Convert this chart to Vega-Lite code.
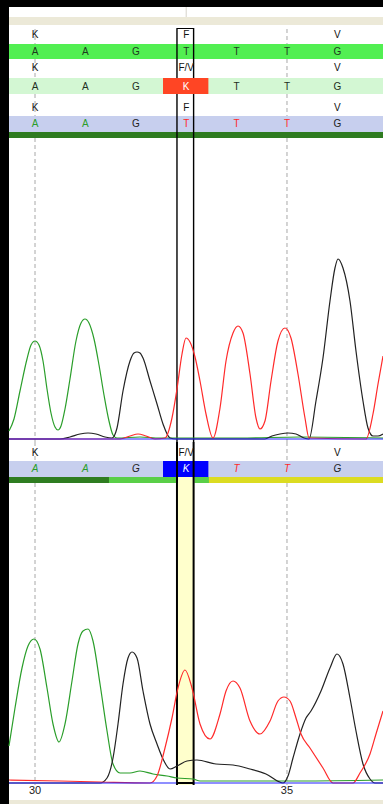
{
  "$schema": "https://vega.github.io/schema/vega-lite/v6.json",
  "background": "black",
  "padding": {"left": 6, "top": 6, "right": 0, "bottom": 0},
  "bounds": "flush",
  "spacing": 0,
  "config": {"view": {"stroke": null}, "text": {"font": "Liberation Sans", "fontSize": 10}},
  "datasets": {
    "grid": [{"p": 30}, {"p": 35}],
    "box": [{"p": 32.817}, {"p": 33.147}],
    "boxspan": [{"p": 32.804, "p2": 33.161}],
    "aa1": [{"p": 30, "t": "K"}, {"p": 33, "t": "F"}, {"p": 36, "t": "V"}],
    "aa2": [{"p": 30, "t": "K"}, {"p": 33, "t": "F/V"}, {"p": 36, "t": "V"}],
    "seq": [{"p": 30, "b": "A"}, {"p": 31, "b": "A"}, {"p": 32, "b": "G"}, {"p": 33, "b": "T"}, {"p": 34, "b": "T"}, {"p": 35, "b": "T"}, {"p": 36, "b": "G"}],
    "seqK": [{"p": 30, "b": "A"}, {"p": 31, "b": "A"}, {"p": 32, "b": "G"}, {"p": 33, "b": "K"}, {"p": 34, "b": "T"}, {"p": 35, "b": "T"}, {"p": 36, "b": "G"}],
    "cell": [{"p": 32.54, "p2": 33.44}],
    "seg": [{"p": 29.484, "p2": 31.468, "k": "a"}, {"p": 31.468, "p2": 33.452, "k": "b"}, {"p": 33.452, "p2": 36.905, "k": "c"}],
    "ticks": [{"p": 30, "t": "30"}, {"p": 35, "t": "35"}],
    "c1": [
      {"b":"A","p":29.484,"v":8},{"b":"A","p":29.583,"v":20},{"b":"A","p":29.702,"v":48},{"b":"A","p":29.841,"v":80},{"b":"A","p":29.921,"v":94},{"b":"A","p":30.0,"v":98},{"b":"A","p":30.079,"v":94},{"b":"A","p":30.159,"v":78},{"b":"A","p":30.238,"v":50},{"b":"A","p":30.317,"v":26},{"b":"A","p":30.397,"v":12},{"b":"A","p":30.456,"v":9},{"b":"A","p":30.516,"v":13},{"b":"A","p":30.595,"v":30},{"b":"A","p":30.694,"v":60},{"b":"A","p":30.813,"v":98},{"b":"A","p":30.913,"v":116},{"b":"A","p":30.992,"v":120},{"b":"A","p":31.071,"v":116},{"b":"A","p":31.171,"v":100},{"b":"A","p":31.27,"v":74},{"b":"A","p":31.369,"v":44},{"b":"A","p":31.468,"v":18},{"b":"A","p":31.548,"v":4},{"b":"A","p":31.627,"v":1},{"b":"A","p":32.083,"v":2},{"b":"A","p":32.48,"v":1},{"b":"A","p":34.067,"v":1},{"b":"A","p":35.258,"v":2},{"b":"A","p":36.905,"v":1},
      {"b":"G","p":29.484,"v":0},{"b":"G","p":30.496,"v":0},{"b":"G","p":30.694,"v":2},{"b":"G","p":30.893,"v":5},{"b":"G","p":31.052,"v":6},{"b":"G","p":31.21,"v":5},{"b":"G","p":31.389,"v":2},{"b":"G","p":31.528,"v":1},{"b":"G","p":31.627,"v":11},{"b":"G","p":31.746,"v":48},{"b":"G","p":31.885,"v":78},{"b":"G","p":31.964,"v":86},{"b":"G","p":32.024,"v":87},{"b":"G","p":32.083,"v":86},{"b":"G","p":32.143,"v":81},{"b":"G","p":32.282,"v":58},{"b":"G","p":32.421,"v":35},{"b":"G","p":32.54,"v":15},{"b":"G","p":32.679,"v":1},{"b":"G","p":32.798,"v":0},{"b":"G","p":34.563,"v":0},{"b":"G","p":34.702,"v":3},{"b":"G","p":34.861,"v":5},{"b":"G","p":35.02,"v":6},{"b":"G","p":35.179,"v":5},{"b":"G","p":35.337,"v":1},{"b":"G","p":35.437,"v":0},{"b":"G","p":35.575,"v":38},{"b":"G","p":35.714,"v":81},{"b":"G","p":35.853,"v":138},{"b":"G","p":35.952,"v":171},{"b":"G","p":36.012,"v":180},{"b":"G","p":36.111,"v":171},{"b":"G","p":36.25,"v":138},{"b":"G","p":36.369,"v":88},{"b":"G","p":36.508,"v":38},{"b":"G","p":36.607,"v":11},{"b":"G","p":36.706,"v":3},{"b":"G","p":36.806,"v":3},{"b":"G","p":36.905,"v":5},
      {"b":"T","p":29.484,"v":0},{"b":"T","p":31.687,"v":0},{"b":"T","p":31.885,"v":3},{"b":"T","p":32.044,"v":5},{"b":"T","p":32.202,"v":3},{"b":"T","p":32.381,"v":0},{"b":"T","p":32.579,"v":1},{"b":"T","p":32.718,"v":21},{"b":"T","p":32.817,"v":50},{"b":"T","p":32.917,"v":85},{"b":"T","p":32.996,"v":101},{"b":"T","p":33.075,"v":97},{"b":"T","p":33.175,"v":82},{"b":"T","p":33.274,"v":58},{"b":"T","p":33.393,"v":25},{"b":"T","p":33.532,"v":1},{"b":"T","p":33.671,"v":31},{"b":"T","p":33.79,"v":78},{"b":"T","p":33.929,"v":106},{"b":"T","p":34.028,"v":113},{"b":"T","p":34.127,"v":106},{"b":"T","p":34.266,"v":65},{"b":"T","p":34.385,"v":21},{"b":"T","p":34.464,"v":10},{"b":"T","p":34.563,"v":18},{"b":"T","p":34.683,"v":58},{"b":"T","p":34.821,"v":98},{"b":"T","p":34.96,"v":111},{"b":"T","p":35.079,"v":101},{"b":"T","p":35.218,"v":65},{"b":"T","p":35.357,"v":21},{"b":"T","p":35.437,"v":1},{"b":"T","p":36.567,"v":0},{"b":"T","p":36.706,"v":25},{"b":"T","p":36.806,"v":55},{"b":"T","p":36.905,"v":83},
      {"b":"C","p":29.484,"v":0},{"b":"C","p":36.905,"v":0}
    ],
    "c2": [
      {"b":"A","p":29.484,"v":37},{"b":"A","p":29.603,"v":75},{"b":"A","p":29.742,"v":115},{"b":"A","p":29.861,"v":137},{"b":"A","p":29.98,"v":144},{"b":"A","p":30.099,"v":134},{"b":"A","p":30.238,"v":95},{"b":"A","p":30.357,"v":59},{"b":"A","p":30.476,"v":41},{"b":"A","p":30.595,"v":59},{"b":"A","p":30.734,"v":102},{"b":"A","p":30.853,"v":139},{"b":"A","p":30.952,"v":152},{"b":"A","p":31.052,"v":154},{"b":"A","p":31.151,"v":142},{"b":"A","p":31.29,"v":99},{"b":"A","p":31.429,"v":52},{"b":"A","p":31.548,"v":19},{"b":"A","p":31.687,"v":10},{"b":"A","p":31.885,"v":10},{"b":"A","p":32.083,"v":12},{"b":"A","p":32.341,"v":9},{"b":"A","p":32.619,"v":7},{"b":"A","p":32.817,"v":5},{"b":"A","p":33.135,"v":4},{"b":"A","p":33.274,"v":2},{"b":"A","p":33.929,"v":2},{"b":"A","p":35.258,"v":2},{"b":"A","p":36.905,"v":3},
      {"b":"G","p":29.484,"v":0},{"b":"G","p":31.29,"v":0},{"b":"G","p":31.429,"v":5},{"b":"G","p":31.548,"v":25},{"b":"G","p":31.647,"v":59},{"b":"G","p":31.746,"v":99},{"b":"G","p":31.845,"v":125},{"b":"G","p":31.925,"v":131},{"b":"G","p":32.024,"v":125},{"b":"G","p":32.143,"v":92},{"b":"G","p":32.282,"v":59},{"b":"G","p":32.421,"v":39},{"b":"G","p":32.54,"v":24},{"b":"G","p":32.679,"v":14},{"b":"G","p":32.817,"v":17},{"b":"G","p":33.016,"v":22},{"b":"G","p":33.214,"v":23},{"b":"G","p":33.591,"v":19},{"b":"G","p":33.929,"v":18},{"b":"G","p":34.266,"v":14},{"b":"G","p":34.583,"v":9},{"b":"G","p":34.921,"v":0},{"b":"G","p":35.02,"v":7},{"b":"G","p":35.119,"v":25},{"b":"G","p":35.258,"v":49},{"b":"G","p":35.377,"v":65},{"b":"G","p":35.476,"v":72},{"b":"G","p":35.675,"v":92},{"b":"G","p":35.853,"v":115},{"b":"G","p":35.992,"v":129},{"b":"G","p":36.111,"v":119},{"b":"G","p":36.25,"v":85},{"b":"G","p":36.369,"v":52},{"b":"G","p":36.508,"v":19},{"b":"G","p":36.647,"v":4},{"b":"G","p":36.746,"v":0},{"b":"G","p":36.905,"v":0},
      {"b":"T","p":29.484,"v":3},{"b":"T","p":30.496,"v":2},{"b":"T","p":31.29,"v":1},{"b":"T","p":32.282,"v":0},{"b":"T","p":32.421,"v":7},{"b":"T","p":32.579,"v":35},{"b":"T","p":32.718,"v":65},{"b":"T","p":32.837,"v":95},{"b":"T","p":32.976,"v":113},{"b":"T","p":33.115,"v":95},{"b":"T","p":33.274,"v":59},{"b":"T","p":33.472,"v":44},{"b":"T","p":33.671,"v":69},{"b":"T","p":33.79,"v":92},{"b":"T","p":33.929,"v":102},{"b":"T","p":34.067,"v":95},{"b":"T","p":34.266,"v":62},{"b":"T","p":34.464,"v":49},{"b":"T","p":34.663,"v":62},{"b":"T","p":34.821,"v":82},{"b":"T","p":34.94,"v":86},{"b":"T","p":35.06,"v":82},{"b":"T","p":35.179,"v":65},{"b":"T","p":35.278,"v":49},{"b":"T","p":35.456,"v":35},{"b":"T","p":35.714,"v":15},{"b":"T","p":35.913,"v":0},{"b":"T","p":36.31,"v":0},{"b":"T","p":36.448,"v":10},{"b":"T","p":36.647,"v":29},{"b":"T","p":36.766,"v":49},{"b":"T","p":36.905,"v":72},
      {"b":"C","p":29.484,"v":0},{"b":"C","p":36.905,"v":0}
    ]
  },
  "vconcat": [
    {"width": 374, "height": 10, "view": {"fill": "#ffffff"},
     "data": {"values": [{"p": 33.0}]},
     "mark": {"type": "rule", "color": "#d6d3ca"},
     "encoding": {"x": {"field": "p", "type": "quantitative", "scale": {"domain": [29.484, 36.905], "nice": false, "zero": false}, "axis": null}}},
    {"width": 374, "height": 8, "view": {"fill": "#ece9d8"},
     "data": {"name": "grid"},
     "mark": {"type": "rule", "opacity": 0},
     "encoding": {"x": {"field": "p", "type": "quantitative", "scale": {"domain": [29.484, 36.905], "nice": false, "zero": false}, "axis": null}}},
    {"width": 374, "height": 3, "view": {"fill": "#ffffff"},
     "data": {"name": "grid"},
     "mark": {"type": "rule", "opacity": 0},
     "encoding": {"x": {"field": "p", "type": "quantitative", "scale": {"domain": [29.484, 36.905], "nice": false, "zero": false}, "axis": null}}},
    {"width": 374, "height": 1, "view": {"fill": "#ffffff"},
     "data": {"name": "boxspan"},
     "mark": {"type": "rect", "color": "#000000"},
     "encoding": {"x": {"field": "p", "type": "quantitative", "scale": {"domain": [29.484, 36.905], "nice": false, "zero": false}, "axis": null}, "x2": {"field": "p2"}}},
    {"width": 374, "height": 15, "view": {"fill": "#ffffff"},
     "layer": [
       {"data": {"name": "grid"}, "mark": {"type": "rule", "color": "#a8a8a8", "strokeDash": [4, 3]}, "encoding": {"x": {"field": "p", "type": "quantitative", "scale": {"domain": [29.484, 36.905], "nice": false, "zero": false}, "axis": null}}},
       {"data": {"name": "box"}, "mark": {"type": "rule", "color": "#000000", "strokeWidth": 1.4}, "encoding": {"x": {"field": "p", "type": "quantitative", "scale": {"domain": [29.484, 36.905], "nice": false, "zero": false}, "axis": null}}},
       {"data": {"name": "aa1"}, "mark": {"type": "text", "color": "#111111", "dy": -2}, "encoding": {"x": {"field": "p", "type": "quantitative", "scale": {"domain": [29.484, 36.905], "nice": false, "zero": false}, "axis": null}, "text": {"field": "t"}}}
     ]},
    {"width": 374, "height": 15, "view": {"fill": "#52ef52"},
     "layer": [
       {"data": {"name": "box"}, "mark": {"type": "rule", "color": "#000000", "strokeWidth": 1.4}, "encoding": {"x": {"field": "p", "type": "quantitative", "scale": {"domain": [29.484, 36.905], "nice": false, "zero": false}, "axis": null}}},
       {"data": {"name": "seq"}, "mark": {"type": "text", "color": "#1f3a1f", "dy": 0.5}, "encoding": {"x": {"field": "p", "type": "quantitative", "scale": {"domain": [29.484, 36.905], "nice": false, "zero": false}, "axis": null}, "text": {"field": "b"}}}
     ]},
    {"width": 374, "height": 19, "view": {"fill": "#ffffff"},
     "layer": [
       {"data": {"name": "grid"}, "mark": {"type": "rule", "color": "#a8a8a8", "strokeDash": [4, 3]}, "encoding": {"x": {"field": "p", "type": "quantitative", "scale": {"domain": [29.484, 36.905], "nice": false, "zero": false}, "axis": null}}},
       {"data": {"name": "box"}, "mark": {"type": "rule", "color": "#000000", "strokeWidth": 1.4}, "encoding": {"x": {"field": "p", "type": "quantitative", "scale": {"domain": [29.484, 36.905], "nice": false, "zero": false}, "axis": null}}},
       {"data": {"name": "aa2"}, "mark": {"type": "text", "color": "#111111", "dy": -0.5}, "encoding": {"x": {"field": "p", "type": "quantitative", "scale": {"domain": [29.484, 36.905], "nice": false, "zero": false}, "axis": null}, "text": {"field": "t"}}}
     ]},
    {"width": 374, "height": 16, "view": {"fill": "#d3f7d3"},
     "layer": [
       {"data": {"name": "box"}, "mark": {"type": "rule", "color": "#000000", "strokeWidth": 1.4}, "encoding": {"x": {"field": "p", "type": "quantitative", "scale": {"domain": [29.484, 36.905], "nice": false, "zero": false}, "axis": null}}},
       {"data": {"name": "cell"}, "mark": {"type": "rect", "color": "#ff4524"}, "encoding": {"x": {"field": "p", "type": "quantitative", "scale": {"domain": [29.484, 36.905], "nice": false, "zero": false}, "axis": null}, "x2": {"field": "p2"}}},
       {"data": {"name": "seqK"}, "transform": [{"filter": "datum.b != 'K'"}], "mark": {"type": "text", "color": "#1f2f1f", "dy": 0.5}, "encoding": {"x": {"field": "p", "type": "quantitative", "scale": {"domain": [29.484, 36.905], "nice": false, "zero": false}, "axis": null}, "text": {"field": "b"}}},
       {"data": {"name": "seqK"}, "transform": [{"filter": "datum.b == 'K'"}], "mark": {"type": "text", "color": "#ffffff", "dy": 0.5}, "encoding": {"x": {"field": "p", "type": "quantitative", "scale": {"domain": [29.484, 36.905], "nice": false, "zero": false}, "axis": null}, "text": {"field": "b"}}}
     ]},
    {"width": 374, "height": 22, "view": {"fill": "#ffffff"},
     "layer": [
       {"data": {"name": "grid"}, "mark": {"type": "rule", "color": "#a8a8a8", "strokeDash": [4, 3]}, "encoding": {"x": {"field": "p", "type": "quantitative", "scale": {"domain": [29.484, 36.905], "nice": false, "zero": false}, "axis": null}}},
       {"data": {"name": "box"}, "mark": {"type": "rule", "color": "#000000", "strokeWidth": 1.4}, "encoding": {"x": {"field": "p", "type": "quantitative", "scale": {"domain": [29.484, 36.905], "nice": false, "zero": false}, "axis": null}}},
       {"data": {"name": "aa1"}, "mark": {"type": "text", "color": "#111111", "dy": 3}, "encoding": {"x": {"field": "p", "type": "quantitative", "scale": {"domain": [29.484, 36.905], "nice": false, "zero": false}, "axis": null}, "text": {"field": "t"}}}
     ]},
    {"width": 374, "height": 16, "view": {"fill": "#c7cfee"},
     "layer": [
       {"data": {"name": "box"}, "mark": {"type": "rule", "color": "#000000", "strokeWidth": 1.4}, "encoding": {"x": {"field": "p", "type": "quantitative", "scale": {"domain": [29.484, 36.905], "nice": false, "zero": false}, "axis": null}}},
       {"data": {"name": "seq"}, "mark": {"type": "text"}, "encoding": {"x": {"field": "p", "type": "quantitative", "scale": {"domain": [29.484, 36.905], "nice": false, "zero": false}, "axis": null}, "text": {"field": "b"}, "color": {"field": "b", "type": "nominal", "scale": {"domain": ["A", "C", "G", "T"], "range": ["#2a9e2a", "#2020ff", "#222222", "#ff2a2a"]}, "legend": null}}}
     ]},
    {"width": 374, "height": 6, "view": {"fill": "#2e7b20"},
     "data": {"name": "box"},
     "mark": {"type": "rule", "color": "#000000", "strokeWidth": 1.4},
     "encoding": {"x": {"field": "p", "type": "quantitative", "scale": {"domain": [29.484, 36.905], "nice": false, "zero": false}, "axis": null}}},
    {"width": 374, "height": 304, "view": {"fill": "#ffffff"},
     "layer": [
       {"data": {"name": "grid"}, "mark": {"type": "rule", "color": "#a8a8a8", "strokeDash": [4, 3]}, "encoding": {"x": {"field": "p", "type": "quantitative", "scale": {"domain": [29.484, 36.905], "nice": false, "zero": false}, "axis": null}}},
       {"data": {"name": "box"}, "mark": {"type": "rule", "color": "#000000", "strokeWidth": 1.4}, "encoding": {"x": {"field": "p", "type": "quantitative", "scale": {"domain": [29.484, 36.905], "nice": false, "zero": false}, "axis": null}}},
       {"data": {"name": "c1"}, "mark": {"type": "line", "interpolate": "monotone", "strokeWidth": 1.2},
        "encoding": {"x": {"field": "p", "type": "quantitative", "scale": {"domain": [29.484, 36.905], "nice": false, "zero": false}, "axis": null},
                     "y": {"field": "v", "type": "quantitative", "scale": {"domain": [-3, 301], "nice": false, "zero": false}, "axis": null},
                     "color": {"field": "b", "type": "nominal", "scale": {"domain": ["A", "C", "G", "T"], "range": ["#2a9e2a", "#2020ff", "#222222", "#ff2a2a"]}, "legend": null}}}
     ]},
    {"width": 374, "height": 19, "view": {"fill": "#ffffff"},
     "layer": [
       {"data": {"name": "grid"}, "mark": {"type": "rule", "color": "#a8a8a8", "strokeDash": [4, 3]}, "encoding": {"x": {"field": "p", "type": "quantitative", "scale": {"domain": [29.484, 36.905], "nice": false, "zero": false}, "axis": null}}},
       {"data": {"name": "box"}, "mark": {"type": "rule", "color": "#000000", "strokeWidth": 2}, "encoding": {"x": {"field": "p", "type": "quantitative", "scale": {"domain": [29.484, 36.905], "nice": false, "zero": false}, "axis": null}}},
       {"data": {"name": "aa2"}, "mark": {"type": "text", "color": "#111111", "dy": 1}, "encoding": {"x": {"field": "p", "type": "quantitative", "scale": {"domain": [29.484, 36.905], "nice": false, "zero": false}, "axis": null}, "text": {"field": "t"}}}
     ]},
    {"width": 374, "height": 16, "view": {"fill": "#c7cfee"},
     "layer": [
       {"data": {"name": "cell"}, "mark": {"type": "rect", "color": "#0000ff"}, "encoding": {"x": {"field": "p", "type": "quantitative", "scale": {"domain": [29.484, 36.905], "nice": false, "zero": false}, "axis": null}, "x2": {"field": "p2"}}},
       {"data": {"name": "box"}, "mark": {"type": "rule", "color": "#000000", "strokeWidth": 2}, "encoding": {"x": {"field": "p", "type": "quantitative", "scale": {"domain": [29.484, 36.905], "nice": false, "zero": false}, "axis": null}}},
       {"data": {"name": "seqK"}, "transform": [{"filter": "datum.b != 'K'"}], "mark": {"type": "text", "fontStyle": "italic", "dy": 0}, "encoding": {"x": {"field": "p", "type": "quantitative", "scale": {"domain": [29.484, 36.905], "nice": false, "zero": false}, "axis": null}, "text": {"field": "b"}, "color": {"field": "b", "type": "nominal", "scale": {"domain": ["A", "C", "G", "T"], "range": ["#2a9e2a", "#2020ff", "#222222", "#ff2a2a"]}, "legend": null}}},
       {"data": {"name": "seqK"}, "transform": [{"filter": "datum.b == 'K'"}], "mark": {"type": "text", "fontStyle": "italic", "color": "#ffffff", "dy": 0}, "encoding": {"x": {"field": "p", "type": "quantitative", "scale": {"domain": [29.484, 36.905], "nice": false, "zero": false}, "axis": null}, "text": {"field": "b"}}}
     ]},
    {"width": 374, "height": 6, "view": {"fill": "#ffffff"},
     "layer": [
       {"data": {"name": "seg"}, "mark": {"type": "rect"}, "encoding": {"x": {"field": "p", "type": "quantitative", "scale": {"domain": [29.484, 36.905], "nice": false, "zero": false}, "axis": null}, "x2": {"field": "p2"}, "fill": {"field": "k", "type": "nominal", "scale": {"domain": ["a", "b", "c"], "range": ["#2f7d21", "#5acf48", "#dcdc22"]}, "legend": null}}},
       {"data": {"name": "boxspan"}, "mark": {"type": "rect", "color": "#ffffcc"}, "encoding": {"x": {"field": "p", "type": "quantitative", "scale": {"domain": [29.484, 36.905], "nice": false, "zero": false}, "axis": null}, "x2": {"field": "p2"}}},
       {"data": {"name": "box"}, "mark": {"type": "rule", "color": "#000000", "strokeWidth": 2}, "encoding": {"x": {"field": "p", "type": "quantitative", "scale": {"domain": [29.484, 36.905], "nice": false, "zero": false}, "axis": null}}}
     ]},
    {"width": 374, "height": 302, "view": {"fill": "#ffffff"},
     "layer": [
       {"data": {"name": "boxspan"}, "mark": {"type": "rect", "color": "#ffffcc"}, "encoding": {"x": {"field": "p", "type": "quantitative", "scale": {"domain": [29.484, 36.905], "nice": false, "zero": false}, "axis": null}, "x2": {"field": "p2"}}},
       {"data": {"name": "grid"}, "mark": {"type": "rule", "color": "#a8a8a8", "strokeDash": [4, 3]}, "encoding": {"x": {"field": "p", "type": "quantitative", "scale": {"domain": [29.484, 36.905], "nice": false, "zero": false}, "axis": null}}},
       {"data": {"name": "box"}, "mark": {"type": "rule", "color": "#000000", "strokeWidth": 2}, "encoding": {"x": {"field": "p", "type": "quantitative", "scale": {"domain": [29.484, 36.905], "nice": false, "zero": false}, "axis": null}}},
       {"data": {"name": "c2"}, "mark": {"type": "line", "interpolate": "monotone", "strokeWidth": 1.2},
        "encoding": {"x": {"field": "p", "type": "quantitative", "scale": {"domain": [29.484, 36.905], "nice": false, "zero": false}, "axis": null},
                     "y": {"field": "v", "type": "quantitative", "scale": {"domain": [-2, 300], "nice": false, "zero": false}, "axis": null},
                     "color": {"field": "b", "type": "nominal", "scale": {"domain": ["A", "C", "G", "T"], "range": ["#2a9e2a", "#2020ff", "#222222", "#ff2a2a"]}, "legend": null}}},
       {"data": {"name": "boxspan"}, "mark": {"type": "rule", "color": "#000000", "strokeWidth": 2},
        "encoding": {"x": {"field": "p", "type": "quantitative", "scale": {"domain": [29.484, 36.905], "nice": false, "zero": false}, "axis": null}, "x2": {"field": "p2"},
                     "y": {"datum": 0, "type": "quantitative", "scale": {"domain": [-2, 300], "nice": false, "zero": false}, "axis": null}}}
     ]},
    {"width": 374, "height": 15, "view": {"fill": "#ffffff"},
     "data": {"name": "ticks"},
     "mark": {"type": "text", "color": "#222222", "fontSize": 11, "dy": -1.5},
     "encoding": {"x": {"field": "p", "type": "quantitative", "scale": {"domain": [29.484, 36.905], "nice": false, "zero": false}, "axis": null}, "text": {"field": "t"}}},
    {"width": 374, "height": 5, "view": {"fill": "#ece9d8"},
     "data": {"name": "grid"},
     "mark": {"type": "rule", "opacity": 0},
     "encoding": {"x": {"field": "p", "type": "quantitative", "scale": {"domain": [29.484, 36.905], "nice": false, "zero": false}, "axis": null}}}
  ]
}
